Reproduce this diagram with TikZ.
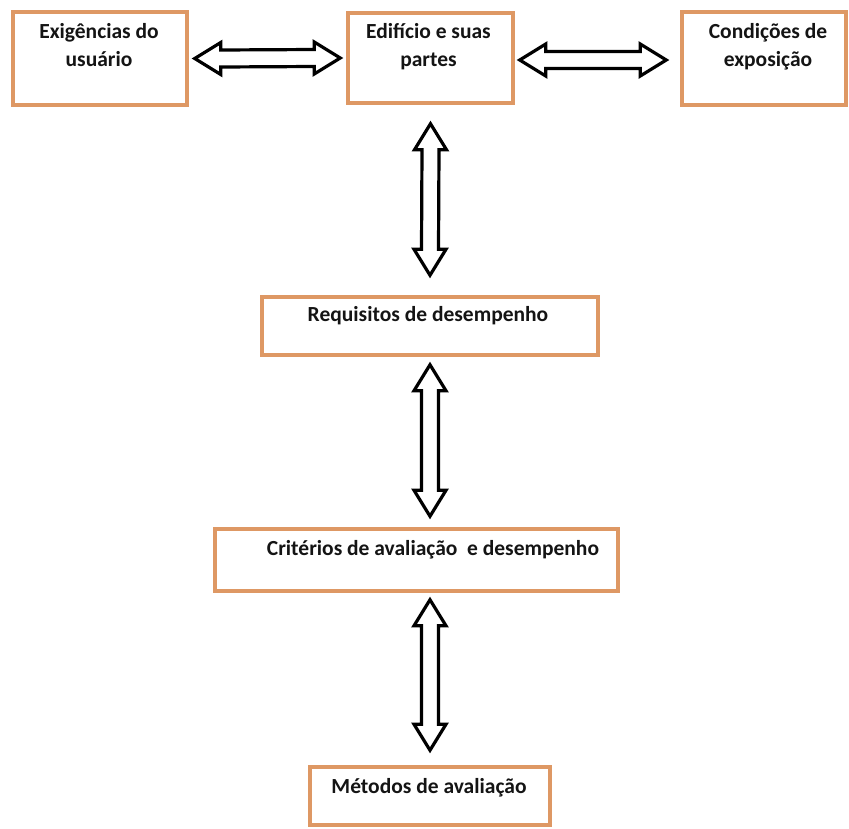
\documentclass[tikz,border=0pt]{standalone}
\usepackage{fontspec}
\setmainfont{Carlito}
\usetikzlibrary{calc}

\definecolor{boxline}{RGB}{222,152,100}
\definecolor{ink}{RGB}{20,20,20}

\tikzset{
  box/.style={draw=boxline, line width=3.5pt, fill=white, inner sep=0pt},
  lbl/.style={font=\bfseries\fontsize{21.5}{28}\selectfont, text=ink,
              align=center, inner sep=0pt, anchor=base},
  dblarrow/.style={draw=black, line width=3.2pt, fill=white, line join=miter},
}

% hollow double-headed arrow between two tips (left/right)
\newcommand\dblarrowh[2]{%
  \draw[dblarrow] (#1) -- ($(#1)+(26,-16)$) -- ($(#1)+(26,-8.5)$)
    -- ($(#2)+(-26,-8.5)$) -- ($(#2)+(-26,-16)$) -- (#2)
    -- ($(#2)+(-26,16)$) -- ($(#2)+(-26,8.5)$)
    -- ($(#1)+(26,8.5)$) -- ($(#1)+(26,16)$) -- cycle;}
% hollow double-headed arrow between two tips (top/bottom)
\newcommand\dblarrowv[2]{%
  \draw[dblarrow] (#1) -- ($(#1)+(16,26)$) -- ($(#1)+(8.5,26)$)
    -- ($(#2)+(8.5,-26)$) -- ($(#2)+(16,-26)$) -- (#2)
    -- ($(#2)+(-16,-26)$) -- ($(#2)+(-8.5,-26)$)
    -- ($(#1)+(-8.5,26)$) -- ($(#1)+(-16,26)$) -- cycle;}

\begin{document}
\begin{tikzpicture}[x=1pt, y=-1pt]
\useasboundingbox[fill=white] (0,0) rectangle (849,828);

% boxes
\node[box, minimum width=174pt, minimum height=93pt] (b1) at (100,58.5) {};
\node[box, minimum width=165pt, minimum height=90pt] (b2) at (430.5,58) {};
\node[box, minimum width=164pt, minimum height=93pt] (b3) at (764,58.5) {};
\node[box, minimum width=336pt, minimum height=58pt] (b4) at (430,326) {};
\node[box, minimum width=403pt, minimum height=62pt] (b5) at (416.5,560) {};
\node[box, minimum width=240pt, minimum height=58pt] (b6) at (430,796) {};

% labels (base anchor = baseline of the last line)
\node[lbl] (t1) at ($(b1.north)+(-1,56)$) {Exigências do\\usuário};
\node[lbl] (t2) at ($(b2.north)+(-2,55)$) {Edifício e suas\\partes};
\node[lbl] (t3) at ($(b3.north)+(4,56)$) {Condições de\\exposição};
\node[lbl] (t4) at ($(b4.north)+(-2,26)$) {Requisitos de desempenho};
\node[lbl] (t5) at ($(b5.north)+(16.5,28)$) {Critérios de avaliação\ \ e desempenho};
\node[lbl] (t6) at ($(b6.north)+(-1,28)$) {Métodos de avaliação};

% arrow tips
\coordinate (a1l) at ($(b1.east)+(6,0)$);
\coordinate (a1r) at ($(b2.west)+(-6,0)$);
\coordinate (a2l) at ($(b2.east)+(5,2)$);
\coordinate (a2r) at ($(b3.west)+(-14,1.5)$);
\coordinate (v1t) at ($(b2.south)+(0,19)$);
\coordinate (v1b) at ($(b4.north)+(0,-20)$);
\coordinate (v2t) at ($(b4.south)+(0,8)$);
\coordinate (v2b) at ($(b4.south |- b5.north)+(0,-11)$);
\coordinate (v3t) at ($(b6.north |- b5.south)+(0,7)$);
\coordinate (v3b) at ($(b6.north)+(0,-15)$);

% connectors
\dblarrowh{a1l}{a1r}
\dblarrowh{a2l}{a2r}
\dblarrowv{v1t}{v1b}
\dblarrowv{v2t}{v2b}
\dblarrowv{v3t}{v3b}
\end{tikzpicture}
\end{document}
